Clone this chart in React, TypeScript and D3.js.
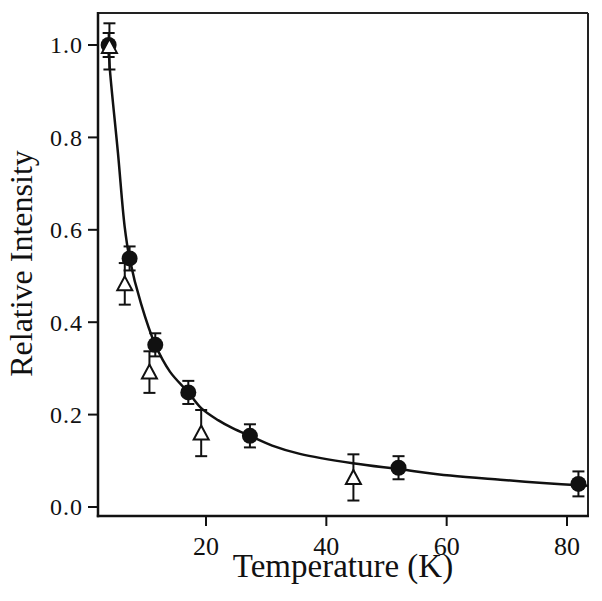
import React from "react";
import * as d3 from "d3";

const circleT = [3.82, 7.3, 11.57, 17.06, 27.3, 52.0, 81.9];
const circleV = [1.0, 0.538, 0.351, 0.248, 0.154, 0.085, 0.05];
const circleErr = [0.026, 0.026, 0.025, 0.025, 0.025, 0.025, 0.027];

const triT = [3.95, 6.5, 10.6, 19.2, 44.5];
const triV = [0.997, 0.483, 0.292, 0.16, 0.064];
const triErr = [0.05, 0.045, 0.045, 0.05, 0.05];

const fitT = [3.82, 3.99, 5.37, 6.48, 7.3, 9.2, 11.57, 14.0, 17.06, 19.2, 22, 24.5, 27.3, 31, 35.6, 44.4, 52, 60.6, 68.9, 76, 83.5];
const fitV = [1.0, 0.953, 0.766, 0.607, 0.538, 0.44, 0.351, 0.293, 0.248, 0.214, 0.188, 0.17, 0.154, 0.133, 0.115, 0.0946, 0.082, 0.068, 0.059, 0.052, 0.046];

const xTicks = [20, 40, 60, 80];
const yTicks = [0.0, 0.2, 0.4, 0.6, 0.8, 1.0];

const W = 602;
const H = 601;
const L = 98, R = 588, T = 13, B = 516;

export default function App() {
  const x = d3.scaleLinear().domain([2.05, 83.49]).range([L, R]);
  const y = d3.scaleLinear().domain([-0.0195, 1.0693]).range([B, T]);
  const line = d3
    .line<number>()
    .x((_, i) => x(fitT[i]))
    .y((d) => y(d))
    .curve(d3.curveCatmullRom);
  const font = "'Liberation Serif', 'Times New Roman', serif";
  const cap = 6;
  const triPath = (cx: number, cy: number) => {
    const w = 7.5, h = 13;
    return `M${cx},${cy - h / 2 - 1}L${cx + w},${cy + h / 2}L${cx - w},${cy + h / 2}Z`;
  };
  return (
    <svg width={W} height={H} style={{ position: "absolute", left: 0, top: 0, background: "#fff" }}>
      <rect x={0} y={0} width={W} height={H} fill="#fff" />
      {/* frame */}
      <line x1={L} y1={T} x2={R} y2={T} stroke="#222" strokeWidth={2} />
      <line x1={R} y1={T} x2={R} y2={B} stroke="#222" strokeWidth={2} />
      <line x1={L} y1={T - 1} x2={L} y2={B + 1.2} stroke="#111" strokeWidth={2.5} />
      <line x1={L - 1.2} y1={B} x2={R + 1} y2={B} stroke="#111" strokeWidth={2.5} />
      {yTicks.map((t) => (
        <g key={"y" + t}>
          <line x1={L - 10} x2={L} y1={y(t)} y2={y(t)} stroke="#111" strokeWidth={2} />
          <text x={L - 15} y={y(t)} dy="0.35em" textAnchor="end" fontFamily={font} fontSize={24} letterSpacing={1} fill="#111">
            {t.toFixed(1)}
          </text>
        </g>
      ))}
      {xTicks.map((t) => (
        <g key={"x" + t}>
          <line x1={x(t)} x2={x(t)} y1={B} y2={B + 10} stroke="#111" strokeWidth={2} />
          <text x={x(t)} y={555} textAnchor="middle" fontFamily={font} fontSize={26} fill="#111">
            {t}
          </text>
        </g>
      ))}
      <text x={(L + R) / 2} y={577} textAnchor="middle" fontFamily={font} fontSize={33} fill="#111">
        Temperature (K)
      </text>
      <text
        transform={`translate(32,${(T + B) / 2 - 1}) rotate(-90)`}
        textAnchor="middle"
        fontFamily={font}
        fontSize={32}
        fill="#111"
      >
        Relative Intensity
      </text>
      <path d={line(fitV) || ""} fill="none" stroke="#111" strokeWidth={2.5} />
      {/* circles with error bars */}
      {circleT.map((t, i) => {
        const cx = x(t);
        const y1 = y(circleV[i] + circleErr[i]);
        const y2 = y(circleV[i] - circleErr[i]);
        return (
          <g key={"c" + i}>
            <line x1={cx} x2={cx} y1={y1} y2={y2} stroke="#111" strokeWidth={2} />
            <line x1={cx - cap} x2={cx + cap} y1={y1} y2={y1} stroke="#111" strokeWidth={2} />
            <line x1={cx - cap} x2={cx + cap} y1={y2} y2={y2} stroke="#111" strokeWidth={2} />
            <circle cx={cx} cy={y(circleV[i])} r={8} fill="#111" />
          </g>
        );
      })}
      {triT.map((t, i) => {
        const cx = x(t);
        const y1 = y(triV[i] + triErr[i]);
        const y2 = y(triV[i] - triErr[i]);
        return (
          <g key={"t" + i}>
            <line x1={cx} x2={cx} y1={y1} y2={y2} stroke="#111" strokeWidth={2} />
            <line x1={cx - cap} x2={cx + cap} y1={y1} y2={y1} stroke="#111" strokeWidth={2} />
            <line x1={cx - cap} x2={cx + cap} y1={y2} y2={y2} stroke="#111" strokeWidth={2} />
            <path d={triPath(cx, y(triV[i]))} fill="#fff" stroke="#111" strokeWidth={2} strokeLinejoin="miter" />
          </g>
        );
      })}
    </svg>
  );
}
